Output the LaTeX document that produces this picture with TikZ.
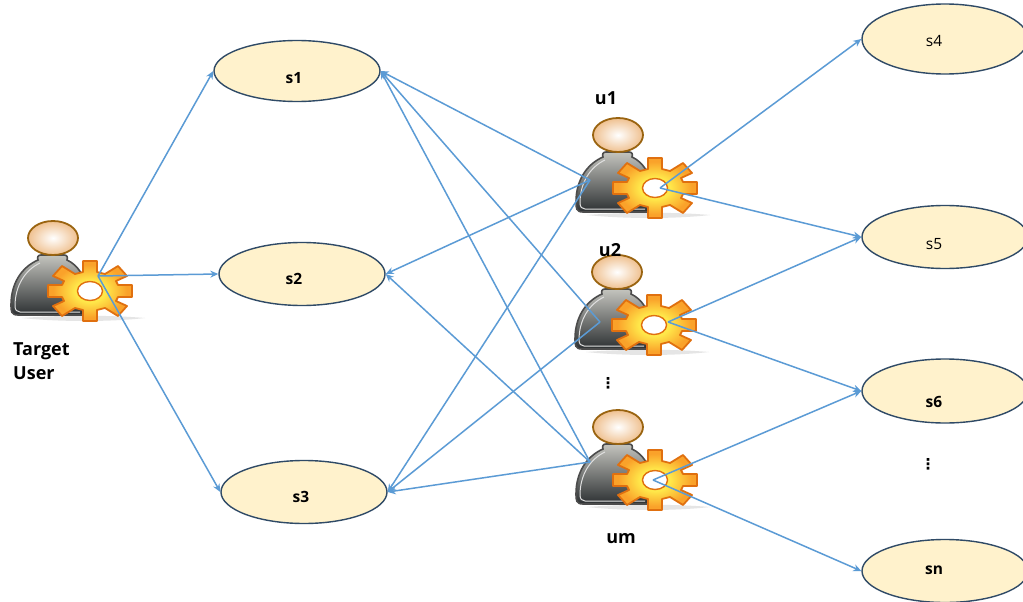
\documentclass[tikz,border=0pt]{standalone}
\usepackage{fontspec}
\setmainfont{Open Sans}
\newfontfamily\dotsfont{DejaVu Sans}
\usetikzlibrary{shapes.geometric,arrows.meta,calc}
\definecolor{linkblue}{HTML}{5B9BD5}
\definecolor{ellfill}{HTML}{FFF2CC}
\definecolor{ellline}{HTML}{2F4A66}
\definecolor{gearline}{HTML}{E0700F}
\definecolor{gearmid}{HTML}{FFE84A}
\definecolor{gearout}{HTML}{FAA22A}
\definecolor{headline}{HTML}{9A6410}
\definecolor{headfill}{HTML}{EFC08F}
\definecolor{bodytop}{HTML}{C4C4BE}
\definecolor{bodybot}{HTML}{2C3032}
\pgfdeclareradialshading{gearshade}{\pgfpoint{0bp}{0bp}}{color(0bp)=(gearmid);color(9bp)=(gearmid);color(22bp)=(gearout);color(50bp)=(gearout)}
\tikzset{
  x=1pt,y=-1pt,
  item/.style={ellipse,draw=ellline,line width=1.4pt,fill=ellfill,inner sep=0pt},
  lab/.style={font=\fontsize{15.5}{24}\selectfont\bfseries,inner sep=0pt},
  biglab/.style={font=\fontsize{18}{24}\selectfont\bfseries,inner sep=0pt},
  plainlab/.style={font=\fontsize{15.5}{24}\selectfont,inner sep=0pt},
  dotlab/.style={font=\dotsfont\fontsize{15}{15}\selectfont\bfseries,inner sep=0pt},
  link/.style={draw=linkblue,line width=1.5pt,-{Stealth[length=8pt,width=7pt]}},
  pics/usericon/.style={code={
    % shadow
    \fill[black!25,opacity=.4] (-68,27) .. controls (-30,24) and (20,24) .. (55,27) .. controls (20,31) and (-30,31) .. (-68,27) -- cycle;
    % body
    \draw[draw=black!70,line width=1.6pt,top color=bodytop,bottom color=bodybot]
      (-72,24) .. controls (-79,24) and (-79,20) .. (-79,14)
      .. controls (-79,-8) and (-68,-24) .. (-52,-31)
      .. controls (-53,-34) and (-52,-36) .. (-49,-36) -- (-26,-36)
      .. controls (-23,-36) and (-22,-34) .. (-23,-31)
      .. controls (-12,-26) and (-5,-14) .. (-3,-2) -- (-3,24)
      -- cycle;
    \draw[black!12,line width=1pt] (-75,15) .. controls (-75,-5) and (-65,-21) .. (-50,-28);
    \draw[black!12,line width=1pt] (-75,15) .. controls (-75,19) and (-73,21) .. (-70,21) -- (-10,21);
    % gear
    \draw[draw=gearline,line width=1.8pt,line join=round,shading=gearshade]
      (42,-6) -- (42,6) -- (28,6) -- (26,10) -- (37,15) -- (28,25) -- (15,17) -- (7,19) -- (7,30)
      -- (-7,30) -- (-7,19) -- (-15,17) -- (-28,25) -- (-37,15) -- (-26,10) -- (-28,6) -- (-42,6)
      -- (-42,-6) -- (-28,-6) -- (-26,-10) -- (-37,-15) -- (-28,-25) -- (-15,-17) -- (-7,-19) -- (-7,-30)
      -- (7,-30) -- (7,-19) -- (15,-17) -- (28,-25) -- (37,-15) -- (26,-10) -- (28,-6) -- cycle;
    \draw[draw=gearline,line width=1.4pt,fill=white] (0,0) ellipse [x radius=12.5,y radius=9.5];
    % head
    \draw[draw=headline,line width=1.8pt,inner color=white,outer color=headfill] (-37,-53) ellipse [x radius=25,y radius=17];
  }}
}
\begin{document}
\begin{tikzpicture}
\useasboundingbox (0,0) rectangle (1023,602);
\fill[white] (0,0) rectangle (1023,602);

\pic at (90,291) {usericon};
\pic at (655,188) {usericon};
\pic at (654,325) {usericon};
\pic at (655,480) {usericon};

\coordinate (tu) at (98,276);
\coordinate (u1l) at (590,180);
\coordinate (u1r) at (660,188);
\coordinate (u2l) at (600,322);
\coordinate (u2r) at (668,322);
\coordinate (uml) at (590,462);
\coordinate (umr) at (653,480);

\node[item,minimum width=166pt,minimum height=61pt] (s1) at (297,71) {};
\node[item,minimum width=166pt,minimum height=63pt] (s2) at (302,274) {};
\node[item,minimum width=166pt,minimum height=63pt] (s3) at (304,492) {};
\node[item,minimum width=166pt,minimum height=70pt] (s4) at (945,39) {};
\node[item,minimum width=166pt,minimum height=63pt] (s5) at (945,237) {};
\node[item,minimum width=166pt,minimum height=64pt] (s6) at (945,391) {};
\node[item,minimum width=166pt,minimum height=63pt] (sn) at (945,571) {};

\node[lab] (s1t) at (294,78) {s1};
\node[lab] (s2t) at (294,279) {s2};
\node[lab] (s3t) at (301,497) {s3};
\node[plainlab] (s4t) at (934,41) {s4};
\node[plainlab] (s5t) at (934,244) {s5};
\node[lab] (s6t) at (934,402) {s6};
\node[lab] (snt) at (934,570) {sn};

\node[biglab,align=left,anchor=north west] (tl) at (13,342) {Target\\User};
\node[biglab] (u1t) at (606,98) {u1};
\node[biglab] (u2t) at (610,250) {u2};
\node[biglab] (umt) at (621,539) {um};
\node[dotlab] (d1) at (608,383) {⋮};
\node[dotlab] (d2) at (928,464) {⋮};

\draw[link] (tu) -- (s1.west);
\draw[link] (tu) -- (s2.west);
\draw[link] (tu) -- (s3.west);
\draw[link] (u1l) -- (s1.east);
\draw[link] (u1l) -- (s2.east);
\draw[link] (u1l) -- (s3.east);
\draw[link] (u2l) -- (s1.east);
\draw[link] (u2l) -- (s3.east);
\draw[link] (uml) -- (s1.east);
\draw[link] (uml) -- (s2.east);
\draw[link] (uml) -- (s3.east);
\draw[link] (u1r) -- (s4.west);
\draw[link] (u1r) -- (s5.west);
\draw[link] (u2r) -- (s5.west);
\draw[link] (u2r) -- (s6.west);
\draw[link] (umr) -- (s6.west);
\draw[link] (umr) -- (sn.west);
\end{tikzpicture}
\end{document}
